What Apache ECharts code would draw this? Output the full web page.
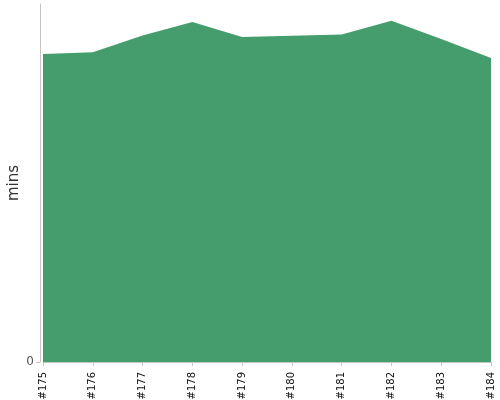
<!DOCTYPE html>
<html>
<head>
<meta charset="utf-8">
<script src="https://cdn.jsdelivr.net/npm/echarts@6/dist/echarts.min.js"></script>
<style>
  html, body { margin: 0; padding: 0; background: #fff; }
  #main { width: 500px; height: 400px; }
</style>
</head>
<body>
<div id="main"></div>
<script>
// builds on x axis
var builds = ['#175', '#176', '#177', '#178', '#179', '#180', '#181', '#182', '#183', '#184'];
// duration in mins
var durations = [86.0, 86.5, 91.2, 95.0, 90.8, 91.1, 91.5, 95.3, 90.2, 84.9];

var chart = echarts.init(document.getElementById('main'));

var option = {
    animation: false,
    grid: {
        left: 43,
        right: 9,
        top: 4,
        bottom: 38,
        containLabel: false,
        outerBoundsMode: 'none'
    },
    xAxis: {
        type: 'category',
        data: builds,
        boundaryGap: false,
        offset: 3,
        axisLine: { lineStyle: { color: '#c4c4c4' } },
        axisTick: { alignWithLabel: true, length: 4, lineStyle: { color: '#c4c4c4' } },
        axisLabel: {
            rotate: 90,
            color: '#111',
            fontSize: 10,
            fontFamily: 'DejaVu Sans',
            interval: 0,
            margin: 7
        },
        splitLine: { show: false }
    },
    yAxis: {
        type: 'value',
        min: 0,
        max: 100,
        interval: 100,
        offset: 3,
        name: 'mins',
        nameLocation: 'middle',
        nameGap: 18,
        nameMoveOverlap: false,
        nameTextStyle: { color: '#333', fontSize: 15, fontFamily: 'DejaVu Sans' },
        axisLine: { show: true, lineStyle: { color: '#c4c4c4' } },
        axisTick: { show: true, length: 4, customValues: [0], lineStyle: { color: '#c4c4c4' } },
        axisLabel: {
            color: '#555',
            fontSize: 12,
            fontFamily: 'DejaVu Sans',
            margin: 6,
            customValues: [0],
            formatter: function (v) { return v === 0 ? '0' : ''; }
        },
        splitLine: { show: false }
    },
    series: [{
        type: 'line',
        data: durations,
        showSymbol: false,
        lineStyle: { width: 0 },
        areaStyle: { color: '#459d6d', opacity: 1 }
    }]
};

chart.setOption(option);
</script>
</body>
</html>
